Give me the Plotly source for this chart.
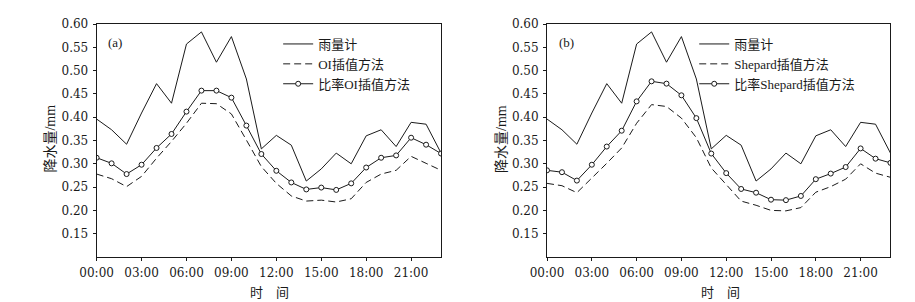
import plotly.graph_objects as go

hours = list(range(24))
tick_hours = [0, 3, 6, 9, 12, 15, 18, 21]
tick_labels = ["00:00", "03:00", "06:00", "09:00", "12:00", "15:00", "18:00", "21:00"]
y_ticks = [0.15, 0.20, 0.25, 0.30, 0.35, 0.40, 0.45, 0.50, 0.55, 0.60]

gauge = [0.396, 0.373, 0.342, 0.409, 0.472, 0.430, 0.557, 0.583, 0.518, 0.573, 0.482, 0.332,
         0.361, 0.340, 0.263, 0.289, 0.323, 0.300, 0.360, 0.373, 0.337, 0.389, 0.385, 0.323]

oi = [0.278, 0.268, 0.251, 0.273, 0.312, 0.348, 0.387, 0.430, 0.429, 0.407, 0.351, 0.294,
      0.258, 0.231, 0.220, 0.222, 0.218, 0.225, 0.260, 0.278, 0.286, 0.316, 0.301, 0.286]
ratio_oi = [0.313, 0.301, 0.278, 0.298, 0.334, 0.364, 0.412, 0.457, 0.457, 0.442, 0.382, 0.321,
            0.285, 0.260, 0.245, 0.249, 0.244, 0.258, 0.292, 0.313, 0.318, 0.356, 0.341, 0.322]

shepard = [0.258, 0.253, 0.238, 0.269, 0.301, 0.334, 0.387, 0.427, 0.423, 0.398, 0.356, 0.291,
           0.255, 0.220, 0.211, 0.200, 0.199, 0.206, 0.239, 0.251, 0.267, 0.300, 0.280, 0.271]
ratio_shepard = [0.286, 0.282, 0.264, 0.298, 0.337, 0.371, 0.434, 0.477, 0.472, 0.447, 0.398, 0.322,
                 0.280, 0.246, 0.238, 0.223, 0.222, 0.231, 0.267, 0.279, 0.293, 0.333, 0.311, 0.302]

names_a = ["雨量计", "OI插值方法", "比率OI插值方法"]
names_b = ["雨量计", "Shepard插值方法", "比率Shepard插值方法"]

INK = "#1a1a1a"
NUM_FONT = dict(family="DejaVu Serif, Liberation Serif, serif", size=12, color=INK)
CJK_FONT = dict(family="Liberation Serif, Noto Sans CJK SC, serif", size=13, color=INK)

# page body has an 8px margin; figure is sized/offset to compensate
OFF = 8
W, H = 915 - OFF, 302 - OFF
T, B = 24 - OFF, H - (257 - OFF)
PH = H - T - B


def px(X):
    return (X - OFF) / W


def py(Y):
    return (257 - Y) / PH


fig = go.Figure()


def add_panel(xa, ya, legend, names, dashed, ratio):
    fig.add_trace(go.Scatter(x=hours, y=gauge, name=names[0], mode="lines",
                             line=dict(color=INK, width=1), xaxis=xa, yaxis=ya, legend=legend))
    fig.add_trace(go.Scatter(x=hours, y=dashed, name=names[1], mode="lines",
                             line=dict(color=INK, width=1, dash="7px,4px"), xaxis=xa, yaxis=ya,
                             legend=legend))
    fig.add_trace(go.Scatter(x=hours, y=ratio, name=names[2], mode="lines+markers",
                             line=dict(color=INK, width=1),
                             marker=dict(symbol="circle", size=5, color="white",
                                         line=dict(color=INK, width=1)),
                             xaxis=xa, yaxis=ya, legend=legend))


add_panel("x", "y", "legend", names_a, oi, ratio_oi)
add_panel("x2", "y2", "legend2", names_b, shepard, ratio_shepard)

dom1 = [px(81), px(432)]
dom2 = [px(540), px(890)]

xcommon = dict(range=[0, 23], tickmode="array", tickvals=tick_hours, ticktext=tick_labels,
               showline=True, linecolor=INK, linewidth=1, mirror=True, ticks="outside",
               ticklen=3, tickcolor=INK, showgrid=False, zeroline=False, tickfont=NUM_FONT,
               ticklabelstandoff=2)
ycommon = dict(range=[0.10, 0.60], tickmode="array", tickvals=y_ticks,
               ticktext=[f"{v:.2f}" for v in y_ticks],
               showline=True, linecolor=INK, linewidth=1, mirror=True, ticks="outside",
               ticklen=3, tickcolor=INK, showgrid=False, zeroline=False, tickfont=NUM_FONT,
               ticklabelstandoff=2)

legend_common = dict(font=CJK_FONT, bgcolor="rgba(0,0,0,0)", borderwidth=0,
                     xanchor="left", yanchor="top", tracegroupgap=0, itemwidth=30)

fig.update_layout(
    width=W, height=H,
    margin=dict(l=0, r=0, t=T, b=B, pad=0),
    paper_bgcolor="white", plot_bgcolor="white",
    xaxis=dict(domain=dom1, anchor="y", **xcommon),
    yaxis=dict(domain=[0, 1], anchor="x", **ycommon),
    xaxis2=dict(domain=dom2, anchor="y2", **xcommon),
    yaxis2=dict(domain=[0, 1], anchor="x2", **ycommon),
    legend=dict(x=px(266), y=py(29), **legend_common),
    legend2=dict(x=px(690), y=py(29), **legend_common),
    showlegend=True,
)

XT_FONT = dict(family="Noto Sans CJK SC", size=13, color=INK)
annos = [
    ("(a)", 100, 42, CJK_FONT),
    ("(b)", 560, 42, CJK_FONT),
    ("时　间", 257, 291, XT_FONT),
    ("时　间", 717, 291, XT_FONT),
]
for text, X, Y, font in annos:
    fig.add_annotation(text=text, x=px(X), y=py(Y), xref="paper", yref="paper",
                       showarrow=False, font=font, xanchor="center", yanchor="middle")
for X in [33, 493]:
    fig.add_annotation(text="降水量/mm", x=px(X), y=py(139), xref="paper", yref="paper",
                       showarrow=False, textangle=-90,
                       font=dict(family="Liberation Serif, Noto Sans CJK SC, serif", size=14, color=INK),
                       xanchor="center", yanchor="middle")

fig.write_html("out.html")
